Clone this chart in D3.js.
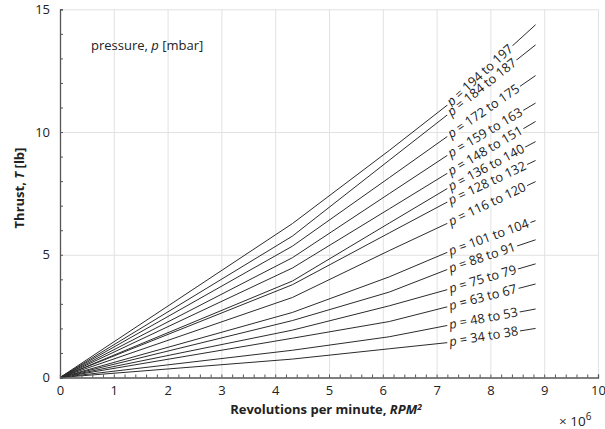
<!DOCTYPE html>
<html>
<head>
<meta charset="utf-8">
<script src="https://cdn.jsdelivr.net/npm/d3@7"></script>
<style>
  body { margin: 0; background: #fff; }
  text { font-family: "Open Sans", sans-serif; fill: #222; }
</style>
</head>
<body>
<svg id="chart" width="605" height="429"></svg>
<script>
"use strict";

// RPM^2 sample points, in units of 10^6
var rpm2 = [0, 4.32, 6.12, 7.2, 8.84];
// pressure ranges [mbar] for each curve
var pLow  = [194, 184, 172, 159, 148, 136, 128, 116, 101, 88, 75, 63, 48, 34];
var pHigh = [197, 187, 175, 163, 151, 140, 132, 120, 104, 91, 79, 67, 53, 38];
// thrust [lb] at each rpm2 point, one row per curve
var thrust = [
  [0, 6.27, 9.25, 11.10, 14.37],
  [0, 5.76, 8.85, 10.70, 13.55],
  [0, 5.35, 8.14,  9.82, 12.30],
  [0, 4.88, 7.49,  9.05, 11.18],
  [0, 4.46, 6.87,  8.32, 10.43],
  [0, 3.93, 6.29,  7.70,  9.61],
  [0, 3.78, 5.89,  7.15,  8.84],
  [0, 3.26, 5.17,  6.28,  7.98],
  [0, 2.65, 4.10,  5.10,  6.39],
  [0, 2.32, 3.48,  4.40,  5.61],
  [0, 1.93, 2.92,  3.58,  4.63],
  [0, 1.60, 2.28,  2.88,  3.81],
  [0, 1.11, 1.66,  2.12,  2.79],
  [0, 0.75, 1.17,  1.42,  2.00]
];
var xTicks = [0, 1, 2, 3, 4, 5, 6, 7, 8, 9, 10];
var yTicks = [0, 5, 10, 15];

var svg = d3.select("#chart");
var plotL = 60, plotR = 598, plotT = 9.3, plotB = 377.5;

var x = d3.scaleLinear().domain([0, 10]).range([plotL, plotR]);
var y = d3.scaleLinear().domain([0, 15]).range([plotB, plotT]);

// grid
svg.append("g")
   .attr("transform", "translate(0," + plotB + ")")
   .call(d3.axisBottom(x).tickValues(xTicks.slice(1)).tickSize(-(plotB - plotT)).tickFormat(""))
   .call(function (g) {
     g.select(".domain").remove();
     g.selectAll("line").attr("stroke", "#e2e2e2");
   });
svg.append("g")
   .attr("transform", "translate(" + plotL + ",0)")
   .call(d3.axisLeft(y).tickValues(yTicks.slice(1)).tickSize(-(plotR - plotL)).tickFormat(""))
   .call(function (g) {
     g.select(".domain").remove();
     g.selectAll("line").attr("stroke", "#e2e2e2");
   });

// curves
var line = d3.line()
  .x(function (d, i) { return x(rpm2[i]); })
  .y(function (d) { return y(d); });

svg.append("g").selectAll("path")
   .data(thrust)
   .enter()
   .append("path")
   .attr("d", line)
   .attr("fill", "none")
   .attr("stroke", "#2b2b2b")
   .attr("stroke-width", 1);

// labels along the last segment
var labels = svg.append("g");
thrust.forEach(function (row, k) {
  var x0 = x(rpm2[3]), y0 = y(row[3]);
  var x1 = x(rpm2[4]), y1 = y(row[4]);
  var ang = Math.atan2(y1 - y0, x1 - x0) * 180 / Math.PI;
  var g = labels.append("g")
    .attr("transform", "translate(" + x0 + "," + y0 + ") rotate(" + ang + ")");
  var bg = g.append("rect").attr("fill", "#fff");
  var t = g.append("text")
    .attr("x", 2)
    .attr("y", 4)
    .style("font-size", "12.8px");
  t.append("tspan").style("font-style", "italic").text("p");
  t.append("tspan").text(" = " + pLow[k] + " to " + pHigh[k]);
  var w = t.node().getComputedTextLength();
  bg.attr("x", 0).attr("y", -3).attr("width", w + 4).attr("height", 6);
});

// axes lines with inward ticks
var axisColor = "#555";
svg.append("g")
   .attr("transform", "translate(" + plotL + ",0)")
   .call(d3.axisRight(y).ticks(15).tickSize(3).tickFormat(""))
   .call(function (g) {
     g.select(".domain").attr("stroke", axisColor).attr("stroke-width", 1.3);
     g.selectAll("line").attr("stroke", axisColor);
   });
svg.append("g")
   .attr("transform", "translate(0," + plotB + ")")
   .call(d3.axisTop(x).ticks(50).tickSize(3).tickFormat(""))
   .call(function (g) {
     g.select(".domain").attr("stroke", axisColor).attr("stroke-width", 1.3);
     g.selectAll("line").attr("stroke", axisColor);
   });

// tick labels
svg.append("g")
   .attr("transform", "translate(" + plotL + ",0)")
   .call(d3.axisLeft(y).tickValues(yTicks).tickSize(0).tickPadding(10))
   .call(function (g) {
     g.select(".domain").remove();
     g.selectAll("text").style("font-size", "13px").attr("fill", "#333").style("font-family", "Open Sans");
   });
svg.append("g")
   .attr("transform", "translate(0," + plotB + ")")
   .call(d3.axisBottom(x).tickValues(xTicks).tickSize(0).tickPadding(8))
   .call(function (g) {
     g.select(".domain").remove();
     g.selectAll("text").style("font-size", "13px").attr("fill", "#333").style("font-family", "Open Sans");
   });

// axis titles
var xt = svg.append("text")
   .attr("x", 326).attr("y", 414)
   .attr("text-anchor", "middle")
   .style("font-size", "13px").style("font-weight", "bold");
xt.append("tspan").text("Revolutions per minute, ");
xt.append("tspan").style("font-style", "italic").text("RPM");
xt.append("tspan").attr("dy", -4).style("font-size", "8.5px").style("font-style", "italic").text("2");

var yt = svg.append("text")
   .attr("transform", "translate(23.5,188) rotate(-90)")
   .attr("text-anchor", "middle")
   .style("font-size", "13px").style("font-weight", "bold");
yt.append("tspan").text("Thrust, ");
yt.append("tspan").style("font-style", "italic").text("T");
yt.append("tspan").text(" [lb]");

var ex = svg.append("text")
   .attr("x", 559).attr("y", 426)
   .style("font-size", "13.5px").attr("fill", "#333");
ex.append("tspan").text("\u00d7 10");
ex.append("tspan").attr("dy", -6).style("font-size", "10px").text("6");

var pt = svg.append("text")
   .attr("x", 91).attr("y", 50)
   .style("font-size", "13px");
pt.append("tspan").text("pressure, ");
pt.append("tspan").style("font-style", "italic").text("p");
pt.append("tspan").text(" [mbar]");
</script>
</body>
</html>
